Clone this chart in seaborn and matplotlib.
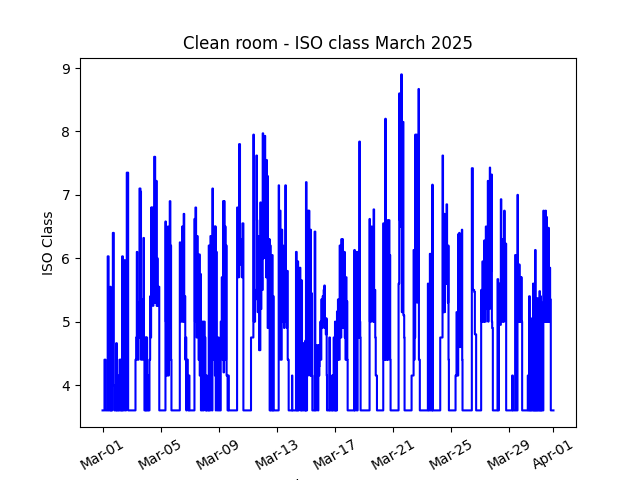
import pandas as pd
import matplotlib
matplotlib.use('Agg')
import matplotlib.pyplot as plt
import matplotlib.dates as mdates
import seaborn as sns

# hours since 2025-03-01 00:00
hours_week1 = [
    0, 3, 3.2, 5, 7.5, 8.5, 9.5, 10, 12.6, 13.5, 14.8, 15.5, 17, 18.6, 20, 22.5, 23.5, 25.2, 26, 28, 29.5, 32.4, 33.5, 35, 36.2, 38, 40, 42.3,
    52.7, 54.4, 55.5, 56.6, 58.2, 61, 62.6, 64.3, 66.5, 67.6, 69.2, 70.9, 72.5, 73.6, 74.8, 75.8, 77.5, 78.6, 80.2, 81.9, 83, 85.2, 86.9, 88.5, 90.2, 91.8, 92.9, 94.6,
    102.8, 103.9, 105, 106, 107.8, 109.4, 111, 112.7, 113.8,
    125.9, 127.6, 129.2, 131.4, 132.5, 134, 135.8, 137.5, 139, 140.8, 142.4, 143.5,
    150.6, 151.8, 153.4, 154.5, 156.2, 157.8, 159.5, 160.5, 161.6, 163.3, 164.4, 165.5, 167, 168.8, 169.9, 171.5, 173.2, 175.4, 177, 178.2, 179.8, 181.5, 183, 184.8, 186.4, 187.5, 188.6, 190.2, 191.9,
    194, 195.2, 196.9, 197.4, 199, 200.7, 202.4, 204, 205.7, 207.3, 208.4,
]
iso_week1 = [
    3.6, 3.6, 4.4, 3.6, 3.6, 6.03, 6.03, 3.6, 5.55, 3.6, 5.16, 3.6, 6.4, 4.0, 3.6, 4.66, 3.6, 4.15, 3.6, 4.4, 3.6, 6.03, 3.6, 4.2, 5.97, 3.6, 7.35, 3.6,
    3.6, 4.4, 4.75, 6.1, 4.4, 7.1, 7.05, 4.4, 5.35, 6.32, 3.6, 4.75, 4.75, 3.6, 4.15, 3.6, 4.4, 5.4, 6.8, 6.8, 5.25, 7.6, 5.3, 7.22, 6.0, 5.55, 5.55, 3.6,
    3.6, 6.58, 6.4, 4.15, 6.5, 5.0, 6.9, 6.2, 3.6,
    3.6, 6.25, 5.0, 6.5, 5.3, 6.7, 5.4, 4.75, 4.4, 4.15, 4.15, 3.6,
    3.6, 6.62, 6.8, 5.0, 6.35, 4.8, 6.06, 4.15, 5.75, 3.6, 5.0, 4.15, 5.0, 4.75, 3.6, 4.15, 3.6, 6.2, 3.6, 6.35, 4.4, 7.1, 5.0, 6.5, 6.5, 6.1, 4.2, 4.75, 3.6,
    3.6, 5.0, 5.7, 5.5, 6.9, 6.9, 6.5, 6.2, 4.15, 4.15, 3.6,
]

hours_week2 = [
    221.6, 222.2, 223.8, 225.5, 227, 228.2, 229.9, 231, 232.6,
    244.2, 245.2, 246.9, 249.1, 250.8, 251.9, 254, 255, 256.2, 257.9, 259, 260.6, 262.3, 264.5, 266.2, 267.8, 269.4, 270.6, 272.2, 272.7, 274.4, 275.5, 276.6, 277.7, 279.9, 281.6, 282.6,
    289.2, 290.9, 292, 293, 294.8, 295.9, 297.5, 299.2, 300.3, 301.9, 303.6, 304.7, 305.8, 307.4,
    312.4, 312.9, 313.4, 318.5, 319.5, 320.6, 322.3, 323.9, 325.6, 326.7, 328.3, 329.4, 331.6, 333.3, 334.9, 336, 337.7, 339.3, 341, 342, 343.7, 344.8, 346.5,
    348, 350.3, 351.4, 353, 354.7, 356.4, 357.5, 358.6, 359.7, 361.3, 363.5, 365.2, 366.3, 367.9, 369.6, 370.7,
    373.5, 374.5, 375.6, 377.8, 378.9, 380.6, 381.7, 382.8, 383.9, 385.5, 387.2, 388.8, 389.9, 391.6, 392.7, 394.3, 396.5, 397.6, 399.3, 400.9, 402, 403.7, 404.8,
]
iso_week2 = [
    3.6, 6.8, 5.7, 7.8, 6.3, 5.9, 5.7, 6.55, 3.6,
    3.6, 4.75, 4.75, 7.95, 5.0, 5.35, 7.62, 6.6, 5.15, 6.35, 4.55, 6.88, 5.7, 7.97, 6.5, 7.93, 6.5, 7.55, 7.3, 4.9, 6.3, 6.3, 6.2, 3.6, 6.05, 5.4, 3.6,
    3.6, 7.15, 5.0, 6.75, 4.4, 6.45, 6.2, 5.0, 5.8, 7.15, 5.8, 5.8, 4.4, 3.6,
    3.6, 4.15, 3.6, 3.6, 6.1, 3.6, 5.95, 4.9, 5.85, 3.6, 5.65, 3.6, 4.66, 3.6, 4.7, 7.2, 4.15, 6.75, 6.75, 4.9, 6.45, 5.45, 3.6,
    3.6, 6.42, 3.6, 4.63, 4.15, 4.63, 4.15, 4.63, 5.0, 5.35, 5.4, 5.5, 5.57, 5.05, 5.05, 3.6,
    3.6, 4.75, 3.6, 3.6, 4.15, 4.15, 4.75, 3.6, 5.0, 4.15, 5.16, 5.35, 4.4, 6.2, 5.0, 6.3, 6.3, 5.0, 6.1, 4.74, 5.7, 5.32, 3.6,
]

hours_week3 = [
    414.7, 415.8, 417.4, 418.5, 419.6, 421.3, 422.9, 424, 425, 426.2,
    439.4, 441, 442, 443.8, 446, 447.6, 449.3, 450.4, 452, 453.2,
    462.5, 463.6, 464.7, 466.9, 468.6, 470.2, 471.9, 473, 474.6, 475.7,
    487.8, 488.9, 490, 491.7, 493.3, 495, 496, 497.7, 498.8,
    509, 510.4, 512, 513.7, 515.3, 516.4, 517.5, 518.6, 519.7, 521.9, 523, 524,
    536.2, 537.3, 538.4, 540.6, 542.3, 544.5, 546.1,
    556.6, 557.7, 559.3, 561.5, 563.2, 564.3, 565.4, 568.1, 569.8, 570.9, 572,
    581.9, 583, 584.6, 585.7, 587.4, 589, 590.1, 591.8, 593.4, 594.5,
]
iso_week3 = [
    3.6, 6.13, 4.15, 6.1, 3.6, 6.1, 4.75, 7.84, 5.0, 3.6,
    3.6, 6.62, 5.0, 6.5, 5.5, 6.77, 5.5, 4.75, 4.15, 3.6,
    3.6, 6.55, 4.4, 8.2, 4.4, 6.6, 5.5, 6.6, 6.05, 3.6,
    3.6, 5.6, 8.6, 6.6, 8.9, 5.15, 8.15, 5.1, 3.6,
    3.6, 4.15, 4.15, 6.13, 4.75, 7.95, 5.5, 7.95, 6.0, 8.67, 4.4, 3.6,
    3.6, 5.6, 3.6, 6.07, 3.6, 7.16, 3.6,
    3.6, 4.75, 4.75, 7.62, 5.15, 6.7, 5.6, 6.85, 5.6, 6.2, 3.6,
    3.6, 4.15, 5.15, 4.15, 6.38, 6.4, 4.6, 4.6, 6.45, 3.6,
]

hours_week4 = [
    608.8, 609.9, 611.6, 613.8, 614.9, 616, 617,
    624.2, 625.3, 626.4, 627.5, 629, 630.3, 631.9, 633, 634.7, 636.3, 637.4, 639.6, 640.7, 642.4, 643.5, 644.6,
    651, 652.3, 653.4, 654.5, 655.6, 657.8, 659.4, 661, 663.3, 664.9, 666, 666.6,
    674.8, 676.5, 677.6, 679.5, 681.4, 683, 685.3, 686.9, 688, 689.7, 691.3, 693,
    701.2, 702.3, 703.4, 704.5, 705.6, 706.7, 708.4, 709.5, 711, 712.8, 714.4, 716, 717.7, 719.4, 721.6, 723.2, 724.9, 726.5, 728, 730, 731.5, 733, 734.8, 736.4, 737.5, 738.6, 739.2, 740.3, 744.7,
]
iso_week4 = [
    3.6, 7.42, 5.5, 5.47, 4.8, 4.8, 3.6,
    3.6, 5.5, 5.0, 5.95, 5.0, 6.28, 5.0, 6.5, 5.2, 7.22, 5.63, 7.43, 5.8, 7.32, 4.9, 3.6,
    3.6, 5.67, 3.6, 5.6, 4.95, 6.93, 5.0, 6.3, 6.75, 5.84, 6.23, 3.6,
    3.6, 4.15, 3.6, 3.6, 6.05, 3.6, 7.0, 5.9, 5.9, 5.7, 5.7, 3.6,
    3.6, 4.15, 3.6, 5.4, 3.6, 5.0, 5.05, 3.6, 5.6, 4.4, 6.13, 4.4, 5.37, 4.4, 5.48, 5.4, 5.3, 3.6, 6.75, 5.8, 6.75, 6.65, 6.45, 6.48, 5.0, 5.85, 5.35, 3.6, 3.6,
]

# short dips between the peaks, where the trace looks solid
dip_hours = [
    11, 14, 16, 19.5, 21, 24.3, 27, 30.5, 31.3, 34.2, 37, 39,
    57.4, 59.5, 60.5, 63.5, 65.5, 68.4, 71.7, 76.5, 79.5, 81, 84, 87.7, 89.4, 91, 93.7,
    104.5, 106.7, 108.6, 110.2, 112, 113.2,
    128.4, 130.3, 133.3, 134.9, 136.6, 138.3, 141.6,
    152.6, 155.4, 157, 158.6, 162.5, 166.2, 172.3, 174.3, 176, 180.6, 182.2, 184, 185.6, 187, 189.4,
    196, 198.2, 199.8, 201.5, 203.2, 204.9, 206.5,
    249.9, 252.9, 255.6, 258.5, 261.5, 263.4, 265.3, 267, 268.6, 270, 271.4, 273.5, 275, 276, 278.8, 280.8,
    291.5, 293.9, 296.7, 298.3, 299.8, 301, 302.7, 304.2, 306.5,
    321.5, 323, 324.8, 327.5, 330.5, 335.5, 336.9, 338.5, 340.1, 341.5, 342.9, 344.2, 345.5,
    352.2, 353.8, 355.5, 358, 360.5, 362.4, 364.3, 365.8, 367, 368.7, 370.2,
    379.8, 382.3, 384.7, 386.3, 388, 390.7, 393.5, 395.4, 397, 398.4, 400, 401.4, 402.9, 404.2,
    416.6, 423.5, 425.6,
    441.5, 442.9, 444.9, 446.8, 448.5, 451.2,
    465.8, 467.8, 469.4, 471, 472.4, 473.8, 475.1,
    489.5, 490.9, 492.5, 494.2, 495.5, 496.9, 498.2,
    513, 514.5, 515.9, 517, 518, 519.1, 520.5, 521.3, 522.5,
    537.8, 539.5, 541.5, 543.4, 545.3,
    560.4, 562.3, 563.8, 564.9, 566.7, 569, 570.4, 571.4,
    584.2, 586.6, 588.2, 589.6, 590.9, 592.6, 594,
    628.2, 629.6, 631.1, 632.4, 633.9, 635.5, 636.9, 638.5, 640.1, 641.5, 643, 644,
    656.7, 658.6, 660.2, 662.1, 664.1, 665.4,
    684.1, 686, 687.4, 688.8, 690.5, 692.2,
    704, 707.5, 710, 711.9, 713.6, 715.2, 716.8, 718.5, 720.5, 722.4, 724, 725.7, 727.2, 729, 730.7, 732.3, 733.9, 735.6, 737,
]
dip_iso = [
    3.6, 3.6, 4.15, 3.6, 3.6, 3.6, 3.6, 4.4, 3.6, 3.6, 3.6, 4.4,
    4.4, 4.75, 5.3, 4.4, 4.4, 4.75, 3.6, 3.6, 4.75, 5.3, 5.3, 5.3, 5.25, 5.25, 3.6,
    5.0, 4.75, 4.15, 4.9, 4.9, 4.4,
    5.0, 5.0, 5.0, 5.0, 4.4, 3.6, 3.6,
    5.0, 4.75, 5.0, 4.4, 3.6, 3.6, 3.6, 3.6, 3.6, 3.6, 4.4, 4.4, 4.15, 3.6, 3.6,
    4.75, 4.4, 4.2, 4.4, 4.4, 4.15, 3.6,
    5.0, 5.5, 5.7, 4.55, 5.2, 5.5, 6.0, 6.5, 6.0, 5.7, 5.7, 4.9, 4.9, 3.6, 3.6, 3.6,
    5.0, 4.4, 5.0, 5.0, 4.9, 5.5, 5.0, 4.9, 4.4,
    3.6, 3.6, 4.15, 3.6, 3.6, 3.6, 3.6, 4.15, 4.6, 4.9, 4.15, 4.15, 4.15,
    3.6, 4.15, 3.6, 4.3, 4.4, 4.9, 5.0, 5.0, 4.9, 4.8, 4.15,
    3.6, 3.6, 3.6, 3.6, 4.4, 4.4, 4.75, 5.0, 4.9, 4.9, 4.75, 4.4, 4.4, 4.4,
    3.6, 4.75, 4.75,
    5.0, 5.0, 5.3, 5.0, 5.0, 4.15,
    4.4, 4.4, 4.4, 4.4, 5.4, 5.4, 4.4,
    5.6, 6.6, 6.5, 5.15, 5.15, 5.1, 4.75,
    4.15, 4.4, 4.75, 5.3, 5.5, 5.5, 5.3, 5.5, 4.4,
    4.4, 3.6, 4.4, 3.6, 3.6,
    4.75, 5.15, 5.15, 5.15, 5.6, 5.6, 5.3, 4.4,
    4.15, 4.15, 4.6, 4.6, 4.6, 4.6, 4.4,
    5.0, 5.0, 5.0, 5.0, 5.2, 5.2, 5.0, 5.2, 5.5, 5.8, 5.0, 4.9,
    4.95, 5.0, 5.0, 5.0, 5.4, 5.4,
    3.6, 5.0, 5.0, 5.0, 5.0, 5.0,
    3.6, 3.6, 3.6, 3.6, 3.6, 3.6, 3.6, 3.6, 3.6, 3.6, 3.6, 3.6, 3.6, 5.0, 5.0, 5.0, 5.0, 5.0, 5.0,
]

hours = hours_week1 + hours_week2 + hours_week3 + hours_week4 + dip_hours
iso_class = iso_week1 + iso_week2 + iso_week3 + iso_week4 + dip_iso

df = pd.DataFrame({'hours': hours, 'iso': iso_class}).sort_values('hours')
df['time'] = pd.Timestamp('2025-03-01') + pd.to_timedelta(df['hours'], unit='h')

fig, ax = plt.subplots()
sns.lineplot(data=df, x='time', y='iso', color='blue', estimator=None, sort=False,
             drawstyle='steps-post', ax=ax)

ax.set_title('Clean room - ISO class March 2025')
ax.set_ylabel('ISO Class')
ax.set_xlabel('timestamp')
ax.xaxis.set_major_formatter(mdates.DateFormatter('%b-%d'))
ax.tick_params(axis='x', rotation=30)

fig.savefig('out.png', dpi=100)
